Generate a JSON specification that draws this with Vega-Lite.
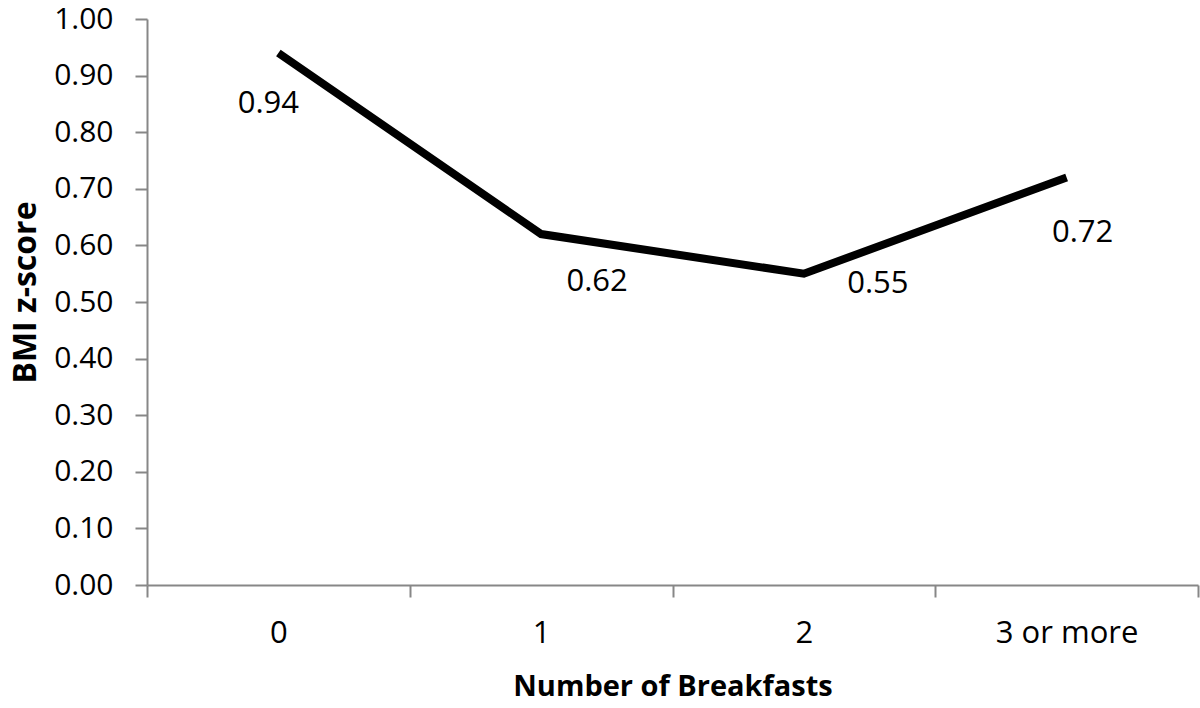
{
  "$schema": "https://vega.github.io/schema/vega-lite/v6.json",
  "autosize": "none",
  "width": 1051,
  "height": 566,
  "padding": {"left": 147, "top": 19, "right": 2, "bottom": 123},
  "background": "white",
  "config": {
    "view": {"stroke": null},
    "font": "Open Sans"
  },
  "data": {
    "values": [
      {"breakfasts": "0", "bmi": 0.94},
      {"breakfasts": "1", "bmi": 0.62},
      {"breakfasts": "2", "bmi": 0.55},
      {"breakfasts": "3 or more", "bmi": 0.72}
    ]
  },
  "encoding": {
    "x": {
      "field": "breakfasts",
      "type": "nominal",
      "sort": null,
      "bandPosition": 0.5,
      "scale": {"type": "band", "paddingInner": 0, "paddingOuter": 0},
      "axis": {
        "title": "Number of Breakfasts",
        "labelAngle": 0,
        "tickBand": "extent",
        "domainColor": "#878787",
        "domainWidth": 2,
        "tickColor": "#878787",
        "tickWidth": 2,
        "tickSize": 12,
        "labelPadding": 21,
        "labelFont": "Open Sans",
        "labelFontSize": 31,
        "labelColor": "black",
        "titleFont": "Open Sans",
        "titleFontSize": 29,
        "titleFontWeight": "bold",
        "titleColor": "black",
        "titlePadding": 24
      }
    },
    "y": {
      "field": "bmi",
      "type": "quantitative",
      "scale": {"domain": [0, 1], "nice": false},
      "axis": {
        "title": "BMI z-score",
        "values": [0, 0.1, 0.2, 0.3, 0.4, 0.5, 0.6, 0.7, 0.8, 0.9, 1.0],
        "format": ".2f",
        "grid": false,
        "domainColor": "#878787",
        "domainWidth": 2,
        "tickColor": "#878787",
        "tickWidth": 2,
        "tickSize": 12,
        "labelPadding": 22,
        "labelFont": "Open Sans",
        "labelFontSize": 30,
        "labelColor": "black",
        "titleFont": "Open Sans",
        "titleFontSize": 32,
        "titleFontWeight": "bold",
        "titleColor": "black",
        "titlePadding": 11,
        "titleY": 273
      }
    }
  },
  "layer": [
    {
      "mark": {"type": "line", "color": "black", "strokeWidth": 8}
    },
    {
      "transform": [{"filter": "datum.breakfasts == '0'"}],
      "mark": {"type": "text", "font": "Open Sans", "fontSize": 31, "color": "black", "baseline": "middle", "align": "center", "dx": -10, "dy": 51},
      "encoding": {"text": {"field": "bmi", "type": "quantitative", "format": ".2f"}}
    },
    {
      "transform": [{"filter": "datum.breakfasts == '1'"}],
      "mark": {"type": "text", "font": "Open Sans", "fontSize": 31, "color": "black", "baseline": "middle", "align": "center", "dx": 56, "dy": 48},
      "encoding": {"text": {"field": "bmi", "type": "quantitative", "format": ".2f"}}
    },
    {
      "transform": [{"filter": "datum.breakfasts == '2'"}],
      "mark": {"type": "text", "font": "Open Sans", "fontSize": 31, "color": "black", "baseline": "middle", "align": "center", "dx": 74, "dy": 10},
      "encoding": {"text": {"field": "bmi", "type": "quantitative", "format": ".2f"}}
    },
    {
      "transform": [{"filter": "datum.breakfasts == '3 or more'"}],
      "mark": {"type": "text", "font": "Open Sans", "fontSize": 31, "color": "black", "baseline": "middle", "align": "center", "dx": 16, "dy": 56},
      "encoding": {"text": {"field": "bmi", "type": "quantitative", "format": ".2f"}}
    }
  ]
}
